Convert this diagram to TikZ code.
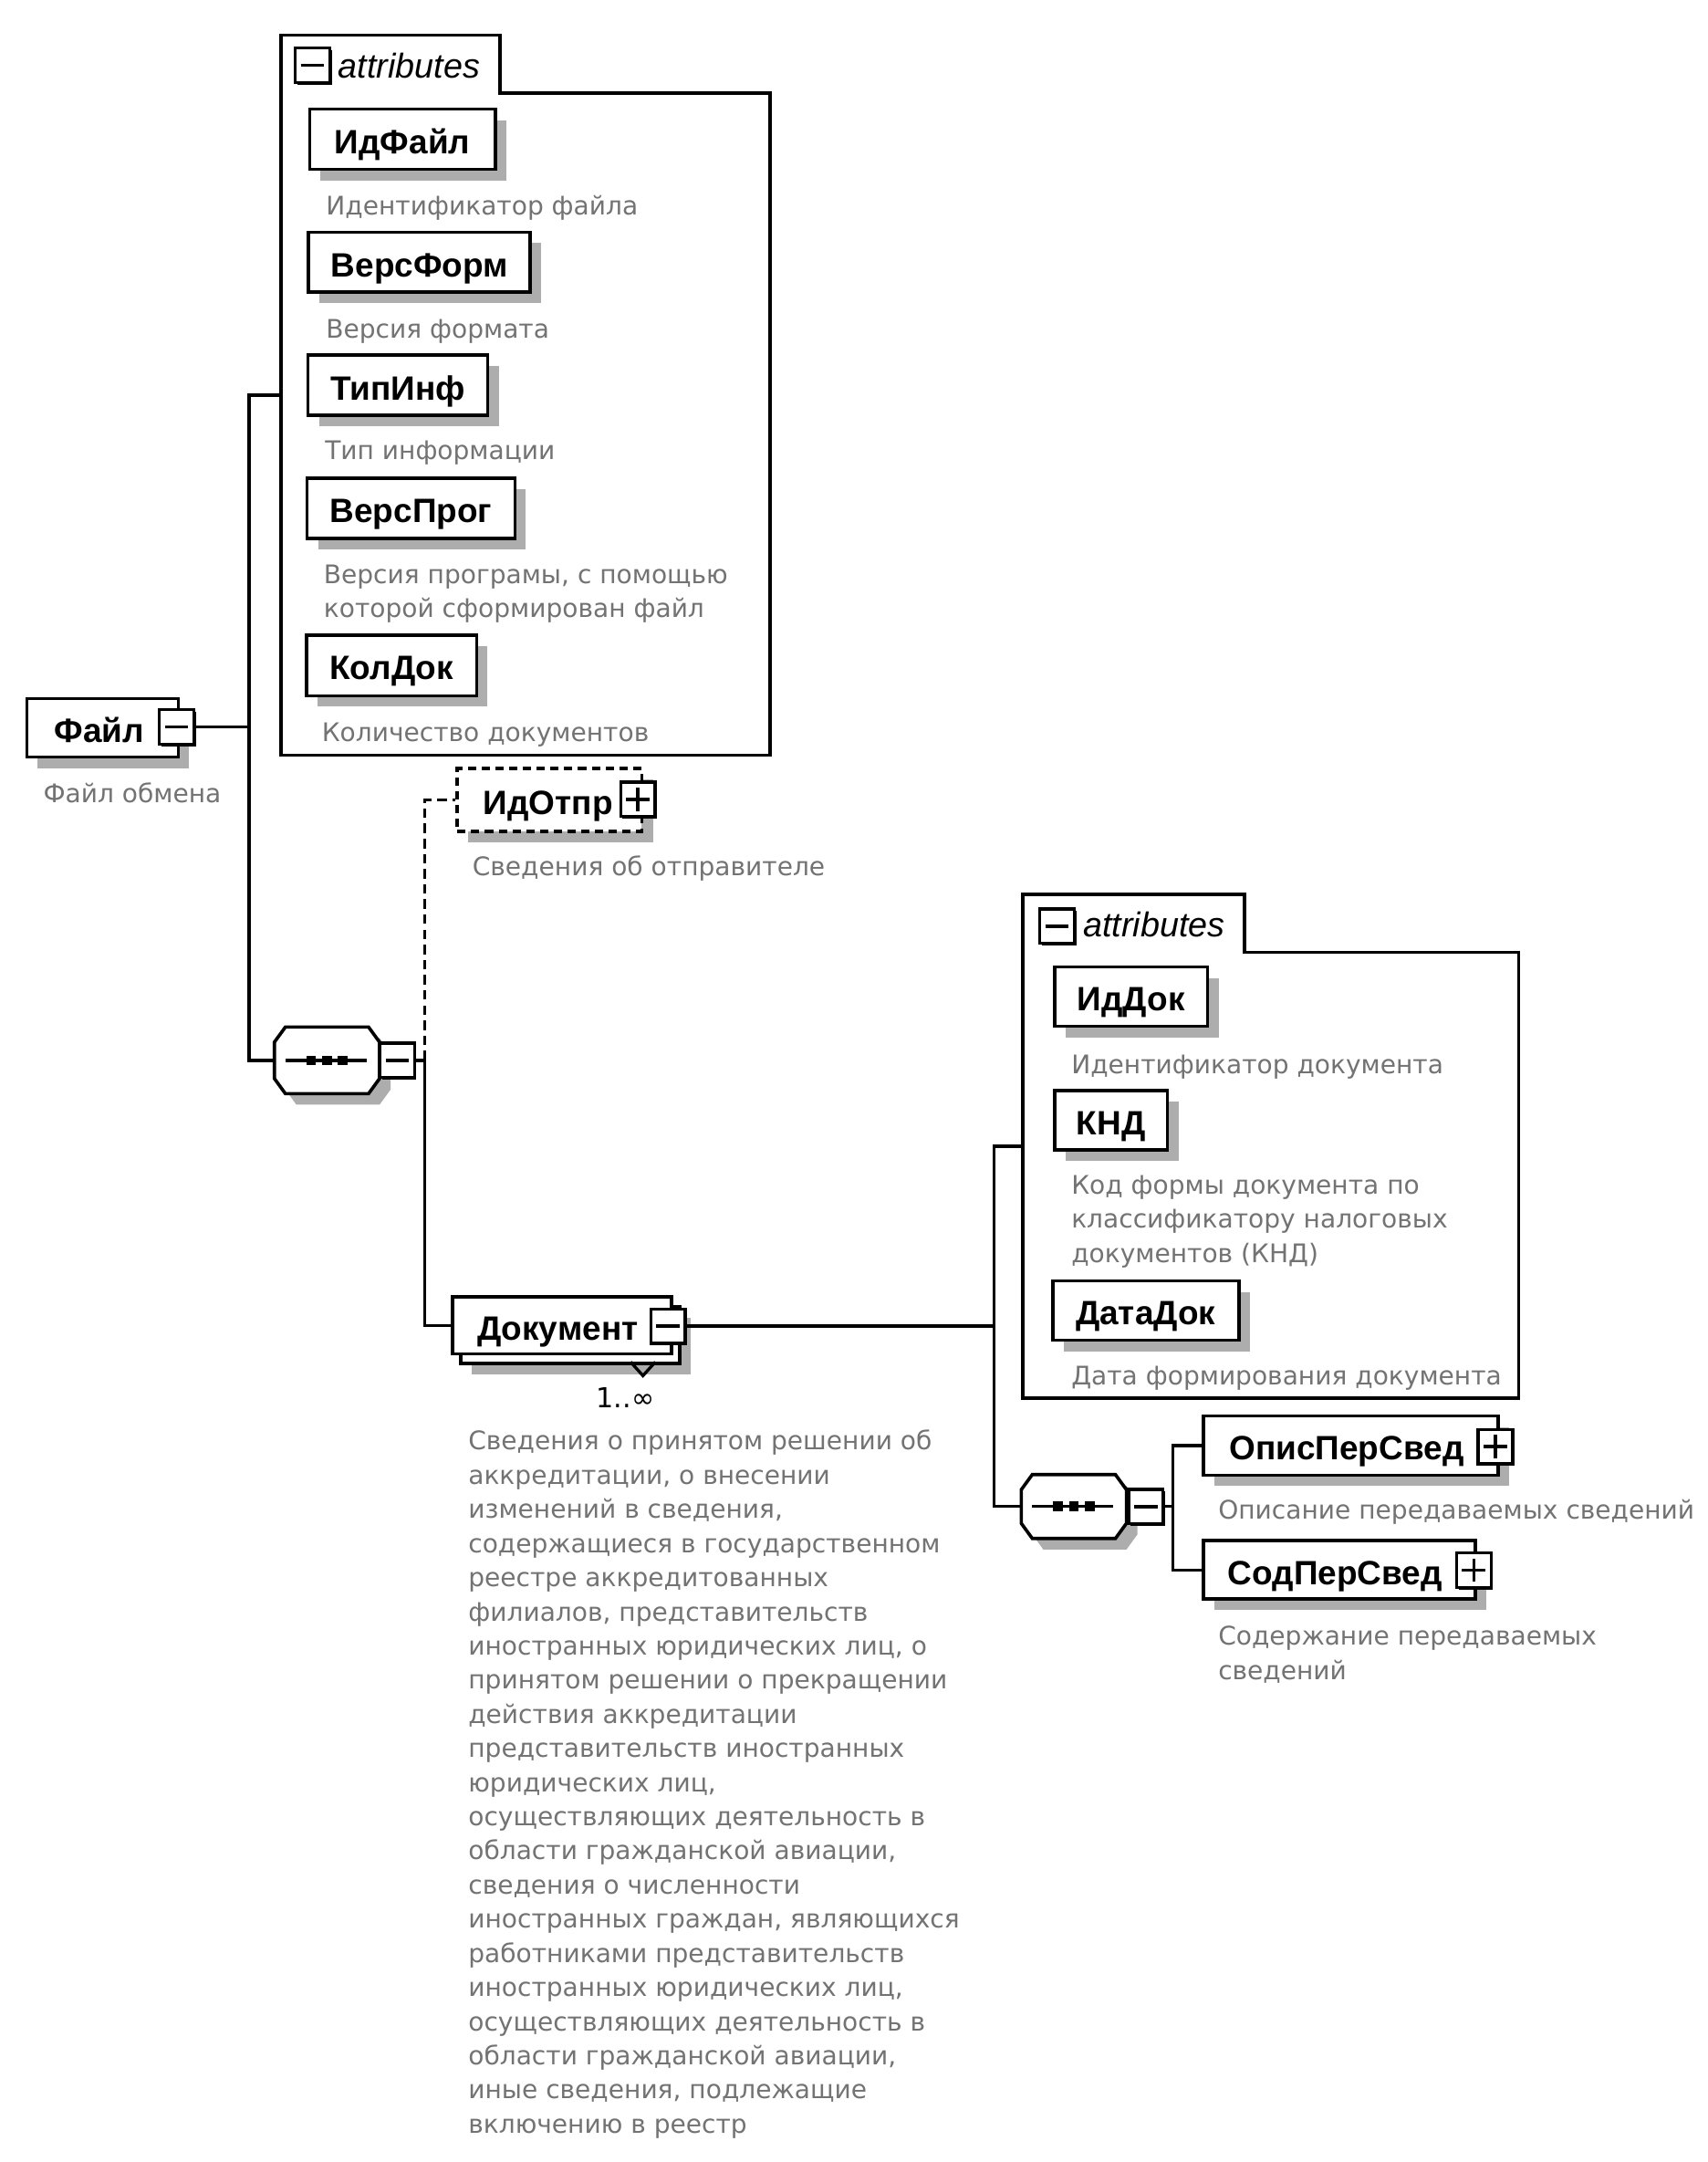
\documentclass[tikz,border=0pt]{standalone}
\usepackage{fontspec}
\setmainfont{Liberation Sans}
\newfontfamily\descfont{DejaVu Sans}
\usetikzlibrary{shadows,calc}
\definecolor{descc}{gray}{0.45}
\definecolor{shadowc}{gray}{0.68}
\begin{document}
\begin{tikzpicture}[x=1pt,y=-1pt,
  conn/.style={line width=2.2pt},
  elem/.style={draw, line width=2.4pt, fill=white, rectangle, anchor=north west,
    inner ysep=0pt, text height=21pt, text depth=0pt,
    font=\fontsize{24.5}{28}\selectfont\bfseries,
    drop shadow={shadow xshift=8pt, shadow yshift=-8pt, fill=shadowc, opacity=1}},
  attrel/.style={elem, inner xsep=0pt},
  desc/.style={font=\descfont\fontsize{18.6}{24.8}\selectfont, text=descc,
    anchor=base west, inner sep=0pt, align=left},
  pmbox/.style={draw, line width=2.2pt, fill=white, minimum size=25pt, inner sep=0pt,
    drop shadow={shadow xshift=1.5pt, shadow yshift=-1.5pt, fill=black, opacity=1}},
  minusbox/.style={pmbox, path picture={
    \draw[line width=2.4pt] ([xshift=4pt]path picture bounding box.west) -- ([xshift=-4pt]path picture bounding box.east);}},
  plusbox/.style={pmbox, path picture={
    \draw[line width=2.4pt] ([xshift=4pt]path picture bounding box.west) -- ([xshift=-4pt]path picture bounding box.east);
    \draw[line width=2.4pt] ([yshift=-4pt]path picture bounding box.north) -- ([yshift=4pt]path picture bounding box.south);}},
  bound/.style={rectangle, inner sep=0pt, anchor=north west},
  attrline/.style={draw, line width=2.4pt, fill=white},
  attrtitle/.style={font=\fontsize{25}{28}\selectfont\itshape, anchor=base west, inner sep=0pt},
  seqbound/.style={rectangle, inner sep=0pt, minimum width=76pt},
  octpath/.style={insert path={([xshift=8pt]#1.north west) -- ([xshift=-8pt]#1.north east) -- ([yshift=-11pt]#1.north east) -- ([yshift=11pt]#1.south east) -- ([xshift=-8pt]#1.south east) -- ([xshift=8pt]#1.south west) -- ([yshift=11pt]#1.south west) -- ([yshift=-11pt]#1.north west) -- cycle}}
]
\fill[white] (0,0) rectangle (1240,1570);
\useasboundingbox (0,0) rectangle (1240,1570);

% ---------- attributes box 1 ----------
\node[bound, minimum width=355pt, minimum height=522.5pt] (attr1) at (204,25.5) {};
\path[attrline] (attr1.south west) -- (attr1.north west) -- ([xshift=159pt]attr1.north west)
  -- ([xshift=159pt,yshift=-42.3pt]attr1.north west) -- ([yshift=-42.3pt]attr1.north east)
  -- (attr1.south east) -- cycle;
\node[minusbox] (a1minus) at (227,47.5) {};
\node[attrtitle] (a1title) at (245.5,56.5) {attributes};

\node[attrel, minimum width=134.8pt, minimum height=43.7pt] (idfile) at (223.7,78) {ИдФайл};
\node[desc] (didfile) at (236.7,156) {Идентификатор файла};
\node[attrel, minimum width=161pt, minimum height=43.6pt] (versform) at (223,167.4) {ВерсФорм};
\node[desc] (dversform) at (236.6,245.7) {Версия формата};
\node[attrel, minimum width=130.5pt, minimum height=43.7pt] (tipinf) at (222.5,256.8) {ТипИнф};
\node[desc] (dtipinf) at (235.9,334) {Тип информации};
\node[attrel, minimum width=151pt, minimum height=44pt] (versprog) at (221.8,346) {ВерсПрог};
\node[desc] (dversprog) at (235,448.5) {Версия програмы, с помощью\\которой сформирован файл};
\node[attrel, minimum width=123.6pt, minimum height=44pt] (koldok) at (221.4,460) {КолДок};
\node[desc] (dkoldok) at (233.6,538.6) {Количество документов};

% ---------- root element ----------
\node[elem, inner xsep=20pt, minimum height=42.6pt] (file) at (18.3,506) {\makebox[70pt][l]{Файл}};
\node[minusbox] (fminus) at (128.3,527.8) {};
\node[desc] (dfile) at (31.3,583) {Файл обмена};

% ---------- sequence 1 ----------
\node[seqbound, minimum height=48pt] (seq1) at (237.5,770) {};
\fill[shadowc, transform canvas={shift={(8pt,-8pt)}}, octpath=seq1];
\draw[line width=2.4pt, fill=white, octpath=seq1];
\draw[line width=2.2pt] ([xshift=8pt]seq1.west) -- ([xshift=-9.5pt]seq1.east);
\fill ([shift={(-15pt,-3.5pt)}]seq1.center) rectangle ++(7pt,7pt);
\fill ([shift={(-3.5pt,-3.5pt)}]seq1.center) rectangle ++(7pt,7pt);
\fill ([shift={(8pt,-3.5pt)}]seq1.center) rectangle ++(7pt,7pt);
\node[minusbox] (s1minus) at (288.5,770) {};

% ---------- ИдОтпр ----------
\node[elem, dash pattern=on 6pt off 4pt, inner xsep=19pt, minimum height=45.6pt] (idotpr) at (331,557) {\makebox[96pt][l]{ИдОтпр}};
\node[plusbox] (otprplus) at (463.3,580.5) {};
\node[desc] (didotpr) at (343,635.6) {Сведения об отправителе};

% ---------- Документ ----------
\node[elem, inner xsep=18pt, minimum height=41.5pt] (docback) at (333.5,947.5) {\makebox[123pt][l]{\phantom{Документ}}};
\node[draw, line width=2.4pt, fill=white, rectangle, anchor=north west, inner ysep=0pt,
  text height=21pt, text depth=0pt, font=\fontsize{24.5}{28}\selectfont\bfseries,
  inner xsep=18pt, minimum height=41.5pt] (doc) at (327.5,940.5) {\makebox[123pt][l]{Документ}};
\draw[line width=2.2pt] (458,989) -- (467,999) -- (476,989);
\node[minusbox] (dminus) at (485.3,963) {};
\node[font=\descfont\fontsize{20}{22}\selectfont, anchor=base west, inner sep=0pt] (mult) at (433,1022) {1..∞};
\node[desc] (ddoc) at (340,1549) {Сведения о принятом решении об\\
аккредитации, о внесении\\
изменений в сведения,\\
содержащиеся в государственном\\
реестре аккредитованных\\
филиалов, представительств\\
иностранных юридических лиц, о\\
принятом решении о прекращении\\
действия аккредитации\\
представительств иностранных\\
юридических лиц,\\
осуществляющих деятельность в\\
области гражданской авиации,\\
сведения о численности\\
иностранных граждан, являющихся\\
работниками представительств\\
иностранных юридических лиц,\\
осуществляющих деятельность в\\
области гражданской авиации,\\
иные сведения, подлежащие\\
включению в реестр};

% ---------- attributes box 2 ----------
\node[bound, minimum width=359.8pt, minimum height=365.7pt] (attr2) at (743,649.3) {};
\path[attrline] (attr2.south west) -- (attr2.north west) -- ([xshift=161pt]attr2.north west)
  -- ([xshift=161pt,yshift=-42.3pt]attr2.north west) -- ([yshift=-42.3pt]attr2.north east)
  -- (attr2.south east) -- cycle;
\node[minusbox] (a2minus) at (767.8,672.5) {};
\node[attrtitle] (a2title) at (786.6,680.3) {attributes};

\node[attrel, minimum width=111pt, minimum height=43pt] (iddok) at (765,701) {ИдДок};
\node[desc] (diddok) at (778,780) {Идентификатор документа};
\node[attrel, minimum width=81.7pt, minimum height=43.1pt] (knd) at (765,790.6) {КНД};
\node[desc] (dknd) at (778,916.6) {Код формы документа по\\классификатору налоговых\\документов (КНД)};
\node[attrel, minimum width=135.1pt, minimum height=43pt] (datadok) at (763.5,929) {ДатаДок};
\node[desc] (ddatadok) at (778,1006) {Дата формирования документа};

% ---------- sequence 2 ----------
\node[seqbound, minimum height=46pt] (seq2) at (780,1094) {};
\fill[shadowc, transform canvas={shift={(8pt,-8pt)}}, octpath=seq2];
\draw[line width=2.4pt, fill=white, octpath=seq2];
\draw[line width=2.2pt] ([xshift=8pt]seq2.west) -- ([xshift=-9.5pt]seq2.east);
\fill ([shift={(-15pt,-3.5pt)}]seq2.center) rectangle ++(7pt,7pt);
\fill ([shift={(-3.5pt,-3.5pt)}]seq2.center) rectangle ++(7pt,7pt);
\fill ([shift={(8pt,-3.5pt)}]seq2.center) rectangle ++(7pt,7pt);
\node[minusbox] (s2minus) at (832.3,1094) {};

% ---------- ОписПерСвед / СодПерСвед ----------
\node[elem, inner xsep=19pt, minimum height=43pt] (opis) at (872.8,1027) {\makebox[176pt][l]{ОписПерСвед}};
\node[plusbox] (opisplus) at (1086.2,1050.5) {};
\node[desc] (dopis) at (884.7,1103.4) {Описание передаваемых сведений};
\node[elem, inner xsep=18pt, minimum height=42.4pt] (sod) at (872.8,1117.6) {\makebox[161.7pt][l]{СодПерСвед}};
\node[plusbox] (sodplus) at (1070.5,1140.3) {};
\node[desc] (dsod) at (884.7,1219.5) {Содержание передаваемых\\сведений};

% ---------- connectors ----------
\coordinate (bA) at (181,0);
\coordinate (bB) at (308.5,0);
\coordinate (bC) at (722,0);
\coordinate (bD) at (852,0);
\draw[conn] (fminus.east) -- (fminus.east -| bA);
\draw[conn] (attr1.west) -| (bA |- seq1.west) -- (seq1.west);
\draw[conn] (s1minus.east) -- (s1minus.east -| bB) |- (doc.west);
\draw[conn, dash pattern=on 7pt off 4pt] (s1minus.east -| bB) |- (idotpr.west);
\draw[conn] (dminus.east) -- (dminus.east -| bC);
\draw[conn] (attr2.west) -| (bC |- seq2.west) -- (seq2.west);
\draw[conn] (s2minus.east) -- (s2minus.east -| bD);
\draw[conn] (opis.west) -| (bD |- sod.west) -- (sod.west);
\end{tikzpicture}
\end{document}
